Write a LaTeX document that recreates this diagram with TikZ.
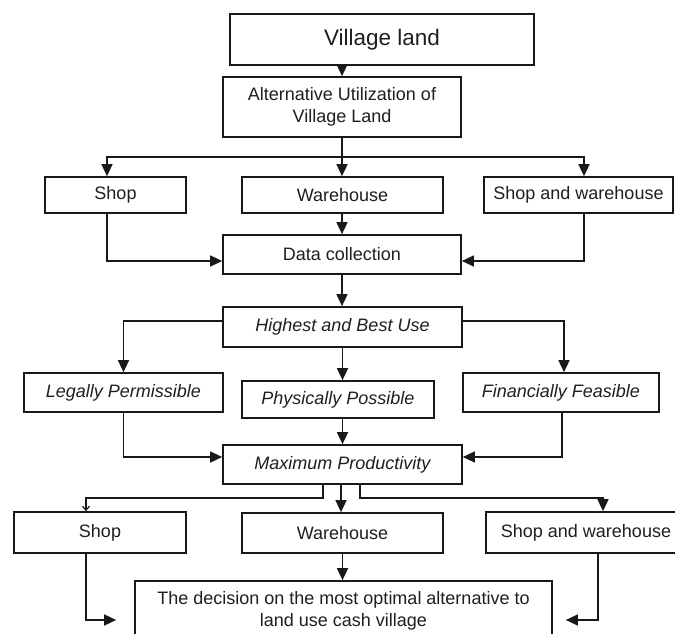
\documentclass[tikz,border=0pt]{standalone}
\usepackage{fontspec}
\setmainfont{Liberation Sans}
\usetikzlibrary{arrows.meta}
\begin{document}
\begin{tikzpicture}[x=1pt,y=-1pt,
  box/.style={draw=black!90, line width=1.7pt, rectangle, inner sep=0pt, align=center,
    text=black!88, font=\fontsize{18}{21.5}\selectfont},
  conn/.style={draw=black!90, line width=1.5pt},
  arr/.style={conn, -{Triangle[length=12pt,width=11pt]}},
  barb/.style={conn, -{Straight Barb[length=4pt,width=7pt,line width=1.2pt]}}]
\useasboundingbox (0,0) rectangle (675,634);
\clip (0,0) rectangle (675,634);
\fill[white] (0,0) rectangle (675,634);
% boxes
\node[box, minimum width=304, minimum height=51, font=\fontsize{22.5}{26}\selectfont] (VL) at (382,39.5) {Village land};
\node[box, minimum width=238, minimum height=60] (Alt) at (342,107) {Alternative Utilization of\\Village Land};
\node[box, minimum width=141, minimum height=36] (Shop1) at (115.5,195) {Shop};
\node[box, minimum width=201, minimum height=36] (Wh1) at (342.5,195) {Warehouse};
\node[box, minimum width=189, minimum height=36] (SW1) at (578.5,195) {Shop and warehouse};
\node[box, minimum width=238, minimum height=39] (Data) at (342,254.5) {Data collection};
\node[box, minimum width=239, minimum height=40] (HBU) at (342.5,327) {\itshape Highest and Best Use};
\node[box, minimum width=199, minimum height=39] (Legal) at (123.5,392.5) {\itshape Legally Permissible};
\node[box, minimum width=192, minimum height=37] (Phys) at (338,399.5) {\itshape Physically Possible};
\node[box, minimum width=196, minimum height=39] (Fin) at (561,392.5) {\itshape Financially Feasible};
\node[box, minimum width=239, minimum height=39] (Max) at (342.5,464.5) {\itshape Maximum Productivity};
\node[box, minimum width=172, minimum height=41] (Shop2) at (100,532.5) {Shop};
\node[box, minimum width=201, minimum height=40] (Wh2) at (342.5,533) {Warehouse};
\node[box, minimum width=200, minimum height=41] (SW2) at (586,532.5) {Shop and warehouse};
\node[box, minimum width=417, minimum height=60] (Dec) at (343.5,611) {The decision on the most optimal alternative to\\land use cash village};
% connectors
\coordinate (j1) at (342,157);
\draw[arr] (VL.south -| Alt.north) -- (Alt.north);
\draw[conn] (Alt.south) -- (j1);
\draw[arr] (j1) -| ([xshift=-8.5pt]Shop1.north);
\draw[arr] (j1) -| ([xshift=5.5pt]SW1.north);
\draw[arr] (j1) -- (j1 |- Wh1.north);
\draw[arr] ([xshift=-8.5pt]Shop1.south) |- ([yshift=-6.5pt]Data.west);
\draw[arr] ([xshift=5.5pt]SW1.south) |- ([yshift=-6.5pt]Data.east);
\draw[arr] (Data.south |- Wh1.south) -- (Data.north);
\draw[arr] (Data.south) -- (Data.south |- HBU.north);
\draw[arr] ([yshift=6pt]HBU.west) -| (Legal.north);
\draw[arr] ([yshift=6pt]HBU.east) -| ([xshift=3pt]Fin.north);
\draw[arr] (HBU.south) -- (HBU.south |- Phys.north);
\draw[arr] (Legal.south) |- ([yshift=7.5pt]Max.west);
\draw[arr] ([xshift=1pt]Fin.south) |- ([yshift=7.5pt]Max.east);
\draw[arr] (Max.north |- Phys.south) -- (Max.north);
\draw[barb] ([xshift=-19.5pt]Max.south) -- ++(0,13) -| ([xshift=-14pt]Shop2.north);
\draw[arr] ([xshift=-1.5pt]Max.south) -- ([xshift=-1.5pt]Wh2.north);
\draw[arr] ([xshift=17.5pt]Max.south) -- ++(0,13) -| ([xshift=17pt]SW2.north);
\draw[arr] (Wh2.south) -- (Wh2.south |- Dec.north);
\draw[arr] ([xshift=-14pt]Shop2.south) |- ([xshift=-18pt,yshift=-9pt]Dec.west);
\draw[arr] ([xshift=12pt]SW2.south) |- ([xshift=13pt,yshift=-9pt]Dec.east);
\end{tikzpicture}
\end{document}
